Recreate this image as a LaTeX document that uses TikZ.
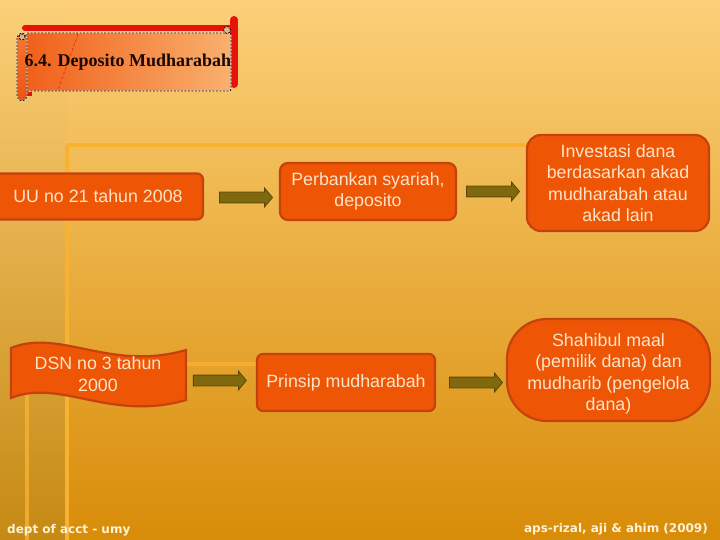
\documentclass[tikz,border=0pt]{standalone}
\usepackage{fontspec}
\setmainfont{Liberation Sans}
\newfontfamily\titlefont{Liberation Serif}
\newfontfamily\footfont{DejaVu Sans}
\usetikzlibrary{shapes.arrows}
\definecolor{bgtop}{RGB}{252,208,120}
\definecolor{bgbot}{RGB}{216,140,8}
\definecolor{striptop}{RGB}{252,208,120}
\definecolor{stripbot}{RGB}{186,136,28}
\definecolor{glow}{RGB}{248,178,48}
\definecolor{boxfill}{RGB}{238,86,6}
\definecolor{boxline}{RGB}{196,66,14}
\definecolor{boxtext}{RGB}{253,228,200}
\definecolor{arrowfill}{RGB}{128,104,14}
\definecolor{arrowline}{RGB}{92,72,6}
\definecolor{scrollred}{RGB}{232,18,12}
\definecolor{panelL}{RGB}{240,96,26}
\definecolor{panelR}{RGB}{249,176,110}
\definecolor{rollT}{RGB}{244,120,50}
\definecolor{rollB}{RGB}{236,84,16}
\definecolor{curl}{RGB}{214,182,140}
\definecolor{titletext}{RGB}{26,8,0}
\definecolor{foottext}{RGB}{253,242,214}
\tikzset{
  box/.style={draw=boxline, line width=2.2pt, fill=boxfill, text=boxtext,
    font=\fontsize{17.8}{21.5}\selectfont, align=center, inner sep=0pt},
  plain/.style={text=boxtext, font=\fontsize{17.8}{21.5}\selectfont, align=center, inner sep=0pt},
  barrow/.style={shape=single arrow, draw=arrowline, line width=0.8pt, fill=arrowfill,
    text height=0pt, text depth=0pt, inner xsep=0pt, inner ysep=5pt,
    single arrow head extend=4pt, minimum width=17pt, single arrow tip angle=100, minimum height=53pt},
  footer/.style={text=foottext, font=\footfont\bfseries\fontsize{12}{14}\selectfont, inner sep=0pt},
  dashline/.style={draw=black, line width=0.7pt, dash pattern=on 2pt off 1.5pt}
}
\begin{document}
\begin{tikzpicture}[x=1pt,y=-1pt]
\useasboundingbox (0,0) rectangle (720,540);
% background
\shade[top color=bgtop, bottom color=bgbot] (0,0) rectangle (720,540);
\shade[top color=striptop, bottom color=stripbot, opacity=0.6] (0,0) rectangle (66,540);
\draw[glow, line width=4pt] (67,145) -- (600,145);
\draw[glow, line width=4pt] (67,145) -- (67,540);
\draw[glow, line width=3.5pt, opacity=0.8] (27,364) -- (300,364);
\draw[glow, line width=3.5pt, opacity=0.8] (27,364) -- (27,540);
% title scroll
\draw[scrollred, line width=6pt, line cap=round] (25,28) -- (230,28);
\draw[scrollred, line width=8pt, line cap=round] (234,20) -- (234,84);
\draw[scrollred, line width=4pt] (22,94) -- (32,94);
\shade[left color=panelL, right color=panelR, rounded corners=2pt] (26,33) rectangle (231,91);
\draw[white, line width=0.7pt, rounded corners=2pt] (26,33) rectangle (231,91);
\draw[dashline, rounded corners=2pt] (26,33) rectangle (231,91);
\draw[scrollred, line width=0.5pt, densely dashed] (78,34) -- (58,90);
\shade[top color=rollT, bottom color=rollB, rounded corners=5pt] (17,33) rectangle (27,101);
\draw[white, line width=0.7pt, rounded corners=5pt] (17,33) rectangle (27,101);
\draw[dashline, rounded corners=5pt] (17,33) rectangle (27,101);
\filldraw[fill=curl, dashline] (22,37) circle (3pt);
\filldraw[fill=curl, dashline] (227,30) circle (3.5pt);
\node[font=\titlefont\bfseries\fontsize{18}{20}\selectfont, text=titletext, inner sep=0pt] (title) at (128,62) {6.4. Deposito Mudharabah};
% top row
\node[box, minimum width=210pt, minimum height=46pt, rounded corners=6pt] (b1) at (98,196.5) {UU no 21 tahun 2008};
\node[box, minimum width=176pt, minimum height=57pt, rounded corners=8pt] (b2) at (368,191.5) {Perbankan syariah,\\deposito};
\node[box, minimum width=182pt, minimum height=96pt, rounded corners=14pt] (b3) at (618,183) {Investasi dana\\berdasarkan akad\\mudharabah atau\\akad lain};
% bottom row
\filldraw[fill=boxfill, draw=boxline, line width=2.2pt]
  (11,348) .. controls (60,328) and (110,372) .. (186,350) -- (186,400)
  .. controls (110,422) and (60,378) .. (11,398) -- cycle;
\node[plain] (b4) at (98,374) {DSN no 3 tahun\\2000};
\node[box, minimum width=178pt, minimum height=57pt, rounded corners=6pt] (b5) at (346,382.5) {Prinsip mudharabah};
\node[box, minimum width=203pt, minimum height=102pt, rounded corners=40pt] (b6) at (608.5,370) {};
\node[plain] (b6t) at (608.5,374) {Shahibul maal\\(pemilik dana) dan\\mudharib (pengelola\\dana)};
% arrows
\node[barrow, anchor=west] (a1) at ([xshift=15pt,yshift=-1pt]b1.east) {};
\node[barrow, anchor=west] (a2) at ([xshift=9pt]b2.east) {};
\node[barrow, anchor=east] (a3) at ([xshift=-9pt,yshift=2pt]b5.west) {};
\node[barrow, anchor=west] (a4) at ([xshift=13pt]b5.east) {};
% footers
\node[footer, anchor=base west] (f1) at (7,533) {dept of acct - umy};
\node[footer, anchor=base east] (f2) at (708,532) {aps-rizal, aji \& ahim (2009)};
\end{tikzpicture}
\end{document}
